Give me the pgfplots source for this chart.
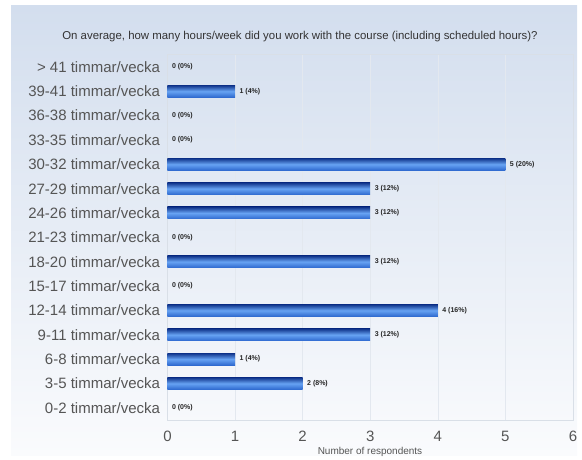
\documentclass[border=0pt]{standalone}
\usepackage{pgfplots}
\pgfplotsset{compat=1.18}
\usepackage{fontspec}
\setmainfont{Liberation Sans}
\definecolor{panelTop}{HTML}{D3DEEE}
\definecolor{panelBot}{HTML}{FAFBFD}
\definecolor{gridc}{HTML}{E3E8EF}
\definecolor{framec}{HTML}{D9DFE7}
\definecolor{barTop}{HTML}{0F338A}
\definecolor{barMid}{HTML}{67A3F3}
\definecolor{barBot}{HTML}{2E69CF}
\definecolor{txt}{HTML}{555555}
\pgfplotsset{
  hbar/.style={xbar, bar shift=0pt, bar width=12pt, draw=none,
    top color=barTop, bottom color=barBot, middle color=barMid},
}
\begin{document}
\begin{tikzpicture}
\path[use as bounding box] (0pt,0pt) rectangle (582pt,459pt);
\shade[top color=panelTop, bottom color=panelBot] (11pt,4pt) rectangle (577pt,453pt);
\begin{axis}[
  at={(167.5pt,39pt)}, anchor=south west,
  scale only axis, width=405.5pt, height=365.3pt,
  xmin=0, xmax=6, ymin=-0.5, ymax=14.5,
  ytick={0,...,14},
  yticklabels={0-2 timmar/vecka,3-5 timmar/vecka,6-8 timmar/vecka,9-11 timmar/vecka,12-14 timmar/vecka,15-17 timmar/vecka,18-20 timmar/vecka,21-23 timmar/vecka,24-26 timmar/vecka,27-29 timmar/vecka,30-32 timmar/vecka,33-35 timmar/vecka,36-38 timmar/vecka,39-41 timmar/vecka,> 41 timmar/vecka},
  xtick={0,...,6},
  major tick length=0pt,
  xmajorgrids, grid style={gridc, line width=0.6pt},
  axis line style={framec},
  tick label style={font=\fontsize{15}{15}\selectfont, text=txt},
  yticklabel style={xshift=-4pt},
  xticklabel style={yshift=-7.5pt},
  /pgf/number format/assume math mode=true,
  nodes near coords, point meta=explicit symbolic,
  nodes near coords style={font=\bfseries\fontsize{7}{8}\selectfont, text=black!85, anchor=west, xshift=1pt},
]
\addplot[hbar] coordinates {(2,1) [2 (8\%)]};
\addplot[hbar] coordinates {(1,2) [1 (4\%)]};
\addplot[hbar] coordinates {(3,3) [3 (12\%)]};
\addplot[hbar] coordinates {(4,4) [4 (16\%)]};
\addplot[hbar] coordinates {(3,6) [3 (12\%)]};
\addplot[hbar] coordinates {(3,8) [3 (12\%)]};
\addplot[hbar] coordinates {(3,9) [3 (12\%)]};
\addplot[hbar] coordinates {(5,10) [5 (20\%)]};
\addplot[hbar] coordinates {(1,13) [1 (4\%)]};
\addplot[xbar, bar shift=0pt, bar width=12pt, draw=none, fill=none] coordinates {
 (0,0) [0 (0\%)]
 (0,5) [0 (0\%)]
 (0,7) [0 (0\%)]
 (0,11) [0 (0\%)]
 (0,12) [0 (0\%)]
 (0,14) [0 (0\%)]
};
\end{axis}
\node[font=\fontsize{11.4}{13}\selectfont, text=black!80] at (300pt,422pt) {On average, how many hours/week did you work with the course (including scheduled hours)?};
\node[font=\fontsize{10}{12}\selectfont, text=txt] at (370pt,7pt) {Number of respondents};
\end{tikzpicture}
\end{document}
